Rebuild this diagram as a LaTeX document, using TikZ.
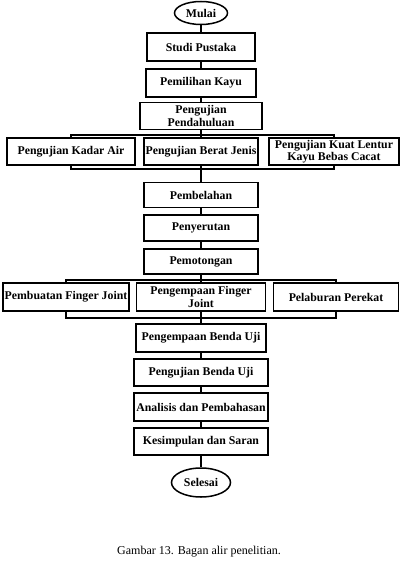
\documentclass[tikz,border=0pt]{standalone}
\usepackage{fontspec}
\setmainfont{Liberation Serif}
\usetikzlibrary{shapes.geometric}
\begin{document}
\begin{tikzpicture}[x=1pt,y=-1pt,line width=1.5pt]
        \tikzset{langkah/.append style={rectangle,
                    draw=black, fill=white,
                    inner sep=1pt,
                    minimum height=27pt,
                    align=center, font=\fontsize{11.8}{12.5}\selectfont\bfseries},
                 terminal/.append style={ellipse,
                    draw=black, fill=white,
                    inner sep=1pt,
                    font=\fontsize{11.8}{12.5}\selectfont\bfseries}}
        \useasboundingbox (0,0) rectangle (402,569);
        \node[terminal,minimum width=53pt,minimum height=23pt] (mulai) at (201,13) {Mulai};
        \node[langkah,minimum width=108pt,minimum height=28pt] (studi) at (201,47) {Studi Pustaka};
        \node[langkah,minimum width=110pt,minimum height=28pt] (pemilihan) at (201,83) {Pemilihan Kayu};
        \node[langkah,minimum width=122pt] (pendahuluan) at (201,116) {Pengujian\\Pendahuluan};
        \node[langkah,minimum width=128pt] (kadar) at (71,151.5) {Pengujian Kadar Air};
        \node[langkah,minimum width=114pt] (berat) at (201,151.5) {Pengujian Berat Jenis};
        \node[langkah,minimum width=130pt] (lentur) at (334,151.5) {Pengujian Kuat Lentur\\Kayu Bebas Cacat};
        \node[langkah,minimum width=114pt,minimum height=25pt] (pembelahan) at (201,195) {Pembelahan};
        \node[langkah,minimum width=114pt,minimum height=26pt] (penyerutan) at (201,228) {Penyerutan};
        \node[langkah,minimum width=114pt,minimum height=25pt] (pemotongan) at (201,261.5) {Pemotongan};
        \node[langkah,minimum width=126pt,minimum height=28pt] (pembuatan) at (66,297) {Pembuatan Finger Joint};
        \node[langkah,minimum width=129pt,minimum height=28pt] (pengempaanfj) at (201,297) {Pengempaan Finger\\Joint};
        \node[langkah,minimum width=125pt,minimum height=28pt] (pelaburan) at (336,297) {Pelaburan Perekat};
        \node[langkah,minimum width=130pt,minimum height=28pt] (pengempaanbu) at (201,338) {Pengempaan Benda Uji};
        \node[langkah,minimum width=134pt] (pengujianbu) at (201,372.5) {Pengujian Benda Uji};
        \node[langkah,minimum width=134pt,minimum height=28pt] (analisis) at (201,407) {Analisis dan Pembahasan};
        \node[langkah,minimum width=134pt] (kesimpulan) at (201,441.5) {Kesimpulan dan Saran};
        \node[terminal,minimum width=59pt,minimum height=29pt] (selesai) at (201,482.5) {Selesai};
        \node[font=\fontsize{12}{14}\selectfont] (judul) at (199,552) {Gambar 13. Bagan alir penelitian.};
        \coordinate (atas1) at (201,135);
        \coordinate (bawah1) at (201,169);
        \coordinate (atas2) at (201,280);
        \coordinate (bawah2) at (201,318);
        \draw (mulai) -- (studi);
        \draw (studi) -- (pemilihan);
        \draw (pemilihan) -- (pendahuluan);
        \draw (pendahuluan) -- (berat);
        \draw (kadar.north) |- (atas1) -| (lentur.north);
        \draw (kadar.south) |- (bawah1) -| (lentur.south);
        \draw (berat) -- (pembelahan);
        \draw (pembelahan) -- (penyerutan);
        \draw (penyerutan) -- (pemotongan);
        \draw (pemotongan) -- (pengempaanfj);
        \draw (pembuatan.north) |- (atas2) -| (pelaburan.north);
        \draw (pembuatan.south) |- (bawah2) -| (pelaburan.south);
        \draw (pengempaanfj) -- (pengempaanbu);
        \draw (pengempaanbu) -- (pengujianbu);
        \draw (pengujianbu) -- (analisis);
        \draw (analisis) -- (kesimpulan);
        \draw (kesimpulan) -- (selesai);
\end{tikzpicture}
\end{document}
